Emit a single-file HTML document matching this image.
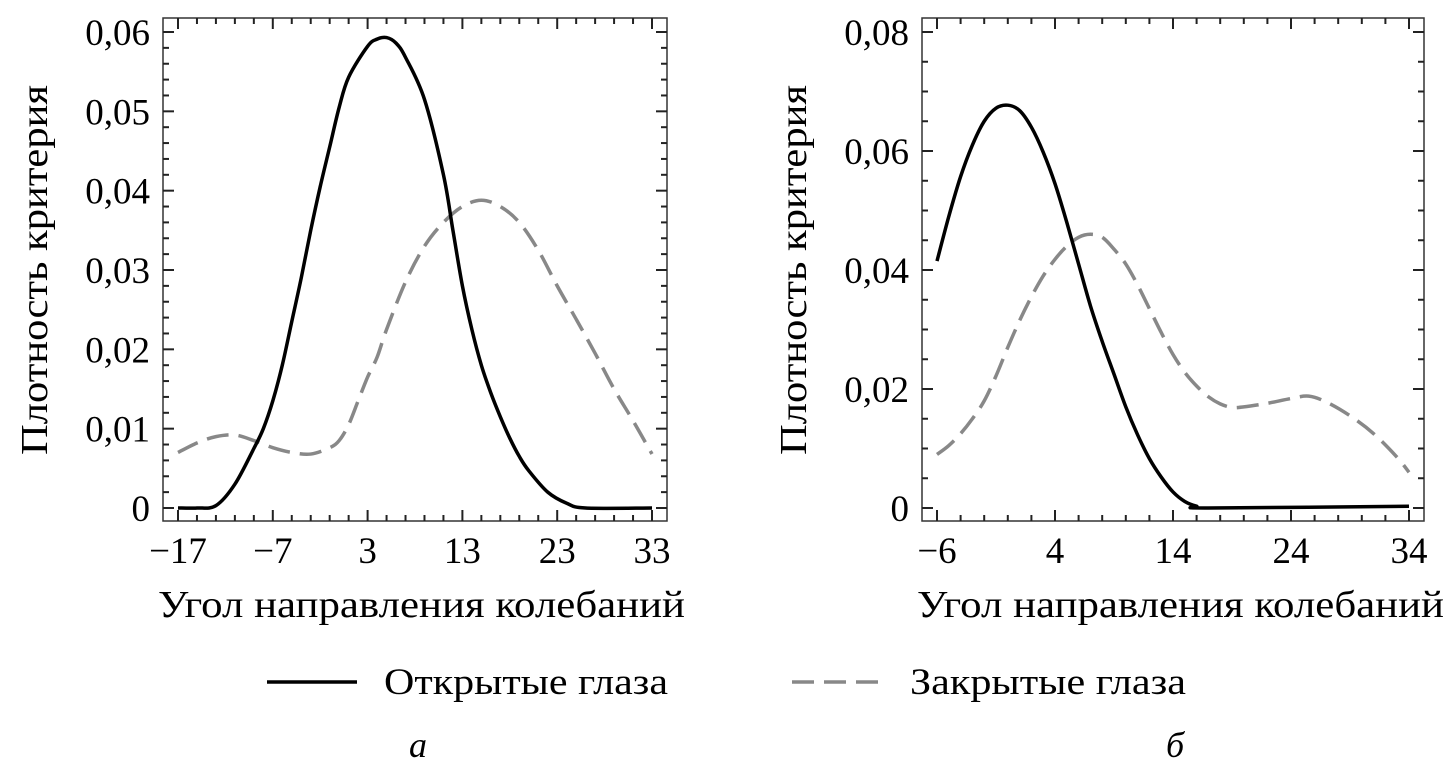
<!DOCTYPE html>
<html><head><meta charset="utf-8">
<style>
html,body{margin:0;padding:0;background:#fff;}
svg{display:block;font-family:"Liberation Serif","DejaVu Serif",serif;}
</style></head>
<body>
<svg id="c" width="1446" height="777" viewBox="0 0 1446 777">
<g id="pA"></g>
<g id="pB"></g>
<g>
  <line x1="267" y1="682" x2="357" y2="682" stroke="#000" stroke-width="3.5"/>
  <text x="384" y="694" font-size="37" textLength="284" lengthAdjust="spacingAndGlyphs">Открытые глаза</text>
  <line x1="792" y1="682" x2="885" y2="682" stroke="#888" stroke-width="3.5" stroke-dasharray="22,10"/>
  <text x="910" y="694" font-size="37" textLength="276" lengthAdjust="spacingAndGlyphs">Закрытые глаза</text>
</g>
<text x="418" y="757" font-size="36" font-style="italic" text-anchor="middle">а</text>
<text x="1175" y="757" font-size="36" font-style="italic" text-anchor="middle">б</text>
</svg>
<script>
// Panel a data
const aOpenX = [-17,-15,-13,-11,-9,-8,-7,-6,-5,-4,-3,-2,-1,0,1,3,4,5,6,7,9,11,12,13,14,15,16,17,18,19,20,22,24,26,33];
const aOpenY = [0,0,0.0003,0.003,0.0075,0.01,0.0135,0.018,0.0235,0.029,0.035,0.0405,0.0455,0.0505,0.0543,0.0582,0.0591,0.0593,0.0586,0.0568,0.0515,0.042,0.035,0.028,0.0225,0.018,0.0145,0.0115,0.0088,0.0065,0.0047,0.002,0.0006,0,0];
const aClosedX = [-17,-15,-13,-11,-9,-7,-5,-3,-1,0,1,2,3,4,5,7,9,11,13,15,17,19,21,23,25,27,29,31,33];
const aClosedY = [0.007,0.0082,0.009,0.0092,0.0085,0.0076,0.007,0.0068,0.0076,0.0085,0.0105,0.0135,0.0165,0.019,0.0225,0.0285,0.033,0.036,0.038,0.0388,0.038,0.036,0.0325,0.028,0.0238,0.0195,0.015,0.011,0.0068];
const aXTicks = [-17,-7,3,13,23,33];
const aXTickLabels = ["−17","−7","3","13","23","33"];
const aYTicks = [0,0.01,0.02,0.03,0.04,0.05,0.06];
const aYTickLabels = ["0","0,01","0,02","0,03","0,04","0,05","0,06"];
// Panel b data
const bOpenX = [-6,-5,-4,-3,-2,-1,0,1,2,3,4,5,6,7,8,9,10,11,12,13,14,15,16,17,34];
const bOpenY = [0.0415,0.049,0.0557,0.061,0.065,0.0672,0.0677,0.0668,0.064,0.0598,0.0545,0.048,0.041,0.034,0.028,0.0225,0.017,0.0123,0.0083,0.0052,0.0027,0.0011,0.0003,0,0.0003];
const bClosedX = [-6,-5,-4,-3,-2,-1,0,1,2,3,4,5,6,7,8,9,10,11,12,13,14,15,16,17,18,19,20,22,24,25.5,27,29,31,33,34];
const bClosedY = [0.009,0.0105,0.0125,0.015,0.018,0.0222,0.027,0.0315,0.0355,0.039,0.0418,0.044,0.0455,0.046,0.0455,0.0435,0.041,0.0375,0.0335,0.0295,0.0258,0.0228,0.0205,0.0187,0.0175,0.0169,0.017,0.0176,0.0184,0.0188,0.0178,0.0155,0.0125,0.0085,0.006];
const bXTicks = [-6,4,14,24,34];
const bXTickLabels = ["−6","4","14","24","34"];
const bYTicks = [0,0.02,0.04,0.06,0.08];
const bYTickLabels = ["0","0,02","0,04","0,06","0,08"];

const NS="http://www.w3.org/2000/svg";
function mk(parent,tag,attrs){const e=document.createElementNS(NS,tag);for(const k in attrs)e.setAttribute(k,attrs[k]);parent.appendChild(e);return e;}
function smoothPath(pts){
  let d="M"+pts[0][0].toFixed(2)+","+pts[0][1].toFixed(2);
  for(let i=0;i<pts.length-1;i++){
    const p0=pts[Math.max(0,i-1)],p1=pts[i],p2=pts[i+1],p3=pts[Math.min(pts.length-1,i+2)];
    const c1=[p1[0]+(p2[0]-p0[0])/6,p1[1]+(p2[1]-p0[1])/6];
    const c2=[p2[0]-(p3[0]-p1[0])/6,p2[1]-(p3[1]-p1[1])/6];
    d+="C"+c1[0].toFixed(2)+","+c1[1].toFixed(2)+" "+c2[0].toFixed(2)+","+c2[1].toFixed(2)+" "+p2[0].toFixed(2)+","+p2[1].toFixed(2);
  }
  return d;
}
function panel(g,cfg){
  const xs=v=>cfg.px0+(v-cfg.x0)*(cfg.px1-cfg.px0)/(cfg.x1-cfg.x0);
  const ys=v=>cfg.py0+(v-cfg.y0)*(cfg.py1-cfg.py0)/(cfg.y1-cfg.y0);
  const F=cfg.frame;
  const fr=mk(g,"rect",{x:F[0],y:F[1],width:F[2]-F[0],height:F[3]-F[1],fill:"none",stroke:"#333","stroke-width":1.5});
  
  
  const xstep=(cfg.xTicks[1]-cfg.xTicks[0])/cfg.xSub;
  for(let v=cfg.xTicks[0];v<=cfg.xTicks[cfg.xTicks.length-1]+1e-9;v+=xstep){
    const major=cfg.xTicks.some(t=>Math.abs(t-v)<1e-6);const L=major?11:6;const x=xs(v);
    const t1=mk(g,"line",{x1:x,y1:F[3],x2:x,y2:F[3]-L,stroke:"#222","stroke-width":2});
    
    
    const t2=mk(g,"line",{x1:x,y1:F[1],x2:x,y2:F[1]+L,stroke:"#222","stroke-width":2});
    
    
  }
  const ystep=(cfg.yTicks[1]-cfg.yTicks[0])/cfg.ySub;
  for(let v=cfg.yTicks[0];v<=cfg.yTicks[cfg.yTicks.length-1]+1e-9;v+=ystep){
    const major=cfg.yTicks.some(t=>Math.abs(t-v)<1e-9);const L=major?11:6;const y=ys(v);
    const t1=mk(g,"line",{x1:F[0],y1:y,x2:F[0]+L,y2:y,stroke:"#222","stroke-width":2});
    
    
    const t2=mk(g,"line",{x1:F[2],y1:y,x2:F[2]-L,y2:y,stroke:"#222","stroke-width":2});
    
    
  }
  cfg.xTicks.forEach((v,i)=>{
    const t=mk(g,"text",{x:xs(v),y:563,"font-size":37,"text-anchor":"middle"});t.textContent=cfg.xLabels[i];
    
    
  });
  cfg.yTicks.forEach((v,i)=>{
    const t=mk(g,"text",{x:F[0]-13,y:ys(v)+13,"font-size":37,"text-anchor":"end"});t.textContent=cfg.yLabels[i];
    
    
  });
  const xt=mk(g,"text",{x:cfg.xTitleX-263,y:617,"font-size":38,textLength:527,lengthAdjust:"spacingAndGlyphs"});xt.textContent="Угол направления колебаний";
  
  
  const yt=mk(g,"text",{x:-185,y:0,"font-size":38,textLength:370,lengthAdjust:"spacingAndGlyphs",transform:"translate("+(cfg.yTitleX)+",270) rotate(-90)"});yt.textContent="Плотность критерия";
  
  
  const p2=mk(g,"path",{d:smoothPath(cfg.closedX.map((x,i)=>[xs(x),ys(cfg.closedY[i])])),fill:"none",stroke:"#888","stroke-width":3.5,"stroke-dasharray":"22,10"});
  
  
  const p1=mk(g,"path",{d:smoothPath(cfg.openX.map((x,i)=>[xs(x),ys(cfg.openY[i])])),fill:"none",stroke:"#000","stroke-width":3.5});
  
  
}
panel(document.getElementById("pA"),{x0:-17,x1:33,px0:178,px1:652,y0:0,y1:0.06,py0:508,py1:32,frame:[163,18,667,521],
  xTicks:aXTicks,xLabels:aXTickLabels,xSub:5,yTicks:aYTicks,yLabels:aYTickLabels,ySub:5,
  openX:aOpenX,openY:aOpenY,closedX:aClosedX,closedY:aClosedY,xTitleX:421,yTitleX:47});
panel(document.getElementById("pB"),{x0:-6,x1:34,px0:937,px1:1409,y0:0,y1:0.08,py0:508,py1:32,frame:[922,18,1424,521],
  xTicks:bXTicks,xLabels:bXTickLabels,xSub:5,yTicks:bYTicks,yLabels:bYTickLabels,ySub:4,
  openX:bOpenX,openY:bOpenY,closedX:bClosedX,closedY:bClosedY,xTitleX:1180,yTitleX:806});
</script>
</body></html>
